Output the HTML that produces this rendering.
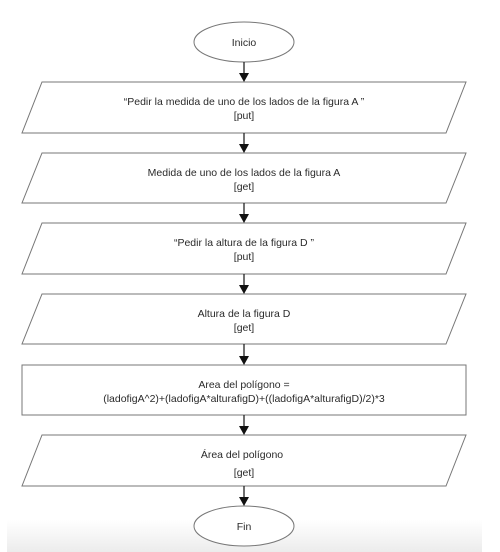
<!DOCTYPE html>
<html><head><meta charset="utf-8"><style>
html,body{margin:0;padding:0;background:#fff;}
svg{display:block;}
text{font-family:"Liberation Sans",Arial,sans-serif;font-size:10.5px;fill:#2a2a2a;text-anchor:middle;}
</style></head><body>
<svg width="500" height="552" viewBox="0 0 500 552" xmlns="http://www.w3.org/2000/svg">
<defs>
<linearGradient id="g" x1="0" y1="0" x2="0" y2="1">
<stop offset="0" stop-color="#fff"/><stop offset="1" stop-color="#ececec"/>
</linearGradient>
</defs>
<rect x="7" y="520" width="475" height="32" fill="url(#g)"/>
<g fill="#fff" stroke="#777" stroke-width="1">
<ellipse cx="244" cy="42" rx="50" ry="20"/>
<polygon points="42,82 466,82 446,133 22,133"/>
<polygon points="42,153 466,153 446,203 22,203"/>
<polygon points="42,223 466,223 446,274 22,274"/>
<polygon points="42,294 466,294 446,344 22,344"/>
<rect x="22" y="365" width="444" height="50"/>
<polygon points="42,435 466,435 446,486 22,486"/>
<ellipse cx="244" cy="526" rx="50" ry="20"/>
</g>
<g stroke="#222" stroke-width="1.3">
<line x1="244" y1="62" x2="244" y2="74"/>
<line x1="244" y1="133" x2="244" y2="145"/>
<line x1="244" y1="203" x2="244" y2="215"/>
<line x1="244" y1="274" x2="244" y2="286"/>
<line x1="244" y1="344" x2="244" y2="357"/>
<line x1="244" y1="415" x2="244" y2="427"/>
<line x1="244" y1="486" x2="244" y2="498"/>
</g>
<g fill="#111">
<polygon points="239,73 249,73 244,82"/>
<polygon points="239,144 249,144 244,153"/>
<polygon points="239,214 249,214 244,223"/>
<polygon points="239,285 249,285 244,294"/>
<polygon points="239,356 249,356 244,365"/>
<polygon points="239,426 249,426 244,435"/>
<polygon points="239,497 249,497 244,506"/>
</g>
<text x="244" y="46">Inicio</text>
<text x="244" y="105">“Pedir la medida de uno de los lados de la figura A ”</text>
<text x="244" y="119">[put]</text>
<text x="244" y="176">Medida de uno de los lados de la figura A</text>
<text x="244" y="190">[get]</text>
<text x="244" y="246">“Pedir la altura de la figura D ”</text>
<text x="244" y="260">[put]</text>
<text x="244" y="317">Altura de la figura D</text>
<text x="244" y="331">[get]</text>
<text x="244" y="388">Area del polígono =</text>
<text x="244" y="402">(ladofigA^2)+(ladofigA*alturafigD)+((ladofigA*alturafigD)/2)*3</text>
<text x="242" y="458">Área del polígono</text>
<text x="244" y="476">[get]</text>
<text x="244" y="530">Fin</text>
</svg>
</body></html>
